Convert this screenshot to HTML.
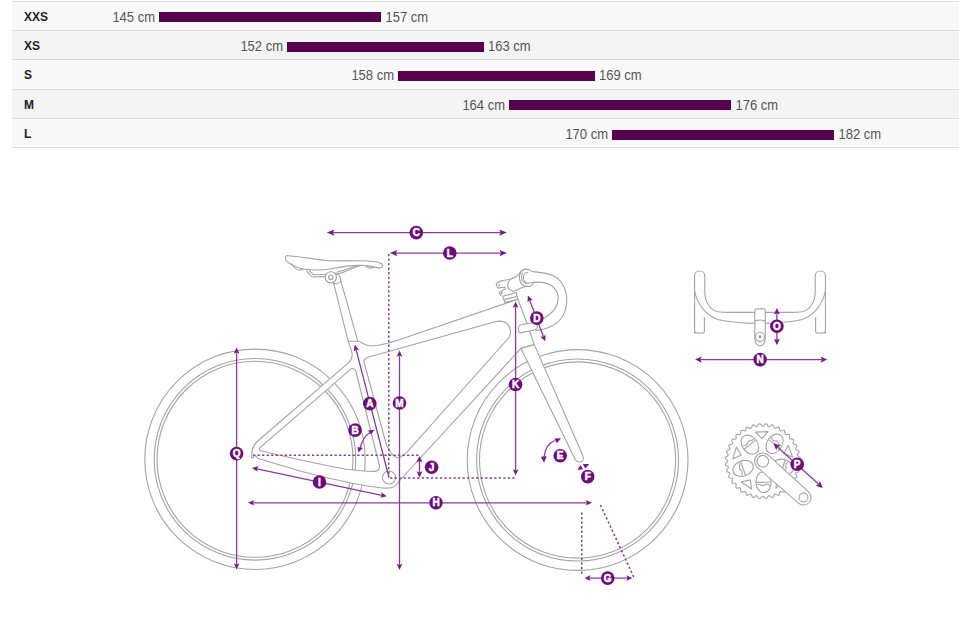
<!DOCTYPE html>
<html><head><meta charset="utf-8">
<style>
html,body{margin:0;padding:0;background:#fff;width:959px;height:618px;overflow:hidden;}
svg{position:absolute;left:0;top:0;}
text{font-family:"Liberation Sans",sans-serif;}
</style></head><body>
<svg width="959" height="618" viewBox="0 0 959 618">
<!-- size table -->
<g>
<rect x="12" y="1" width="947" height="29" fill="#f9f9f9"/>
<rect x="12" y="30" width="947" height="29" fill="#f4f4f4"/>
<rect x="12" y="59" width="947" height="30" fill="#f9f9f9"/>
<rect x="12" y="89" width="947" height="29" fill="#f4f4f4"/>
<rect x="12" y="118" width="947" height="29" fill="#f9f9f9"/>
<g fill="#dddddd">
<rect x="12" y="1" width="947" height="1"/>
<rect x="12" y="30" width="947" height="1"/>
<rect x="12" y="59" width="947" height="1"/>
<rect x="12" y="89" width="947" height="1"/>
<rect x="12" y="118" width="947" height="1"/>
<rect x="12" y="147" width="947" height="1"/>
</g>
<g fill="#222" font-weight="bold" font-size="12">
<text x="24" y="21">XXS</text>
<text x="24" y="50">XS</text>
<text x="24" y="79">S</text>
<text x="24" y="108.5">M</text>
<text x="24" y="137.5">L</text>
</g>
<g fill="#58004e">
<rect x="159" y="12" width="222" height="10"/>
<rect x="287" y="42" width="197" height="10"/>
<rect x="398" y="71" width="197" height="10"/>
<rect x="509" y="100" width="222" height="10"/>
<rect x="612" y="130" width="222" height="10"/>
</g>
<g fill="#555" font-size="13">
<text transform="translate(155,21.9) scale(1,1.07)" text-anchor="end">145 cm</text>
<text transform="translate(385.5,21.9) scale(1,1.07)">157 cm</text>
<text transform="translate(283,50.9) scale(1,1.07)" text-anchor="end">152 cm</text>
<text transform="translate(488,50.9) scale(1,1.07)">163 cm</text>
<text transform="translate(394,79.8) scale(1,1.07)" text-anchor="end">158 cm</text>
<text transform="translate(599,79.8) scale(1,1.07)">169 cm</text>
<text transform="translate(505,109.9) scale(1,1.07)" text-anchor="end">164 cm</text>
<text transform="translate(735.5,109.9) scale(1,1.07)">176 cm</text>
<text transform="translate(608,139) scale(1,1.07)" text-anchor="end">170 cm</text>
<text transform="translate(838.5,139) scale(1,1.07)">182 cm</text>
</g>
</g>

<!-- BIKE -->
<g id="bike" fill="none" stroke="#a4a4a4" stroke-width="1.1" stroke-linejoin="round" stroke-linecap="round">
<!-- wheels -->
<circle cx="255" cy="459.3" r="110.2"/>
<circle cx="255" cy="459.3" r="100.8"/>
<circle cx="255" cy="459.3" r="98"/>
<circle cx="577.6" cy="460" r="110.4"/>
<circle cx="577.6" cy="460" r="101"/>
<circle cx="577.6" cy="460" r="98.1"/>
<!--EXTRAS-->
<path d="M694.6,333 L694.6,276 C694.6,273 697,271 699.8,271 C702.5,271 704.8,273 704.8,276 L704.8,292 C704.8,302 710,310 718,311.8 C722,312.4 726,312.4 730,312.4 L754.7,312.4"/>
<path d="M694.6,291 C697,303 705,315 718,319.5 C728,322 740,323 754.7,323.4"/>
<path d="M704.4,317.5 L704.4,331.5 C704.4,333 703.5,333 702,333 L697,333 C695.5,333 694.6,332.5 694.6,331"/>
<path d="M825.4,333 L825.4,276 C825.4,273 823,271 820.2,271 C817.5,271 815.2,273 815.2,276 L815.2,292 C815.2,302 810,310 802,311.8 C798,312.4 794,312.4 790,312.4 L765.3,312.4"/>
<path d="M825.4,291 C823,303 815,315 802,319.5 C792,322 780,323 765.3,323.4"/>
<path d="M815.6,317.5 L815.6,331.5 C815.6,333 816.5,333 818,333 L823,333 C824.5,333 825.4,332.5 825.4,331"/>
<path d="M754.8,311 C754.8,309 756,308.6 758,308.9 C759.3,309.1 760.7,309.1 762,308.9 C764,308.6 765.3,309 765.3,311 L765.3,339 C765.3,343 762.5,345.8 760,345.8 C757.5,345.8 754.8,343 754.8,339 Z"/>
<path d="M754.8,322 C755,320.5 757,320 760,320 C763,320 765,320.5 765.3,322"/>
<circle cx="760" cy="336.8" r="4.6"/>
<circle cx="760" cy="336.8" r="1" fill="#9a9a9a"/>
<path d="M797.80,461.20 L797.90,461.58 L798.17,461.97 L798.58,462.37 L799.07,462.78 L799.54,463.21 L799.94,463.63 L800.19,464.06 L800.26,464.48 L800.12,464.88 L799.80,465.25 L799.33,465.60 L798.79,465.94 L798.24,466.26 L797.77,466.58 L797.43,466.92 L797.27,467.28 L797.30,467.67 L797.50,468.10 L797.84,468.57 L798.24,469.06 L798.64,469.56 L798.95,470.05 L799.13,470.51 L799.12,470.93 L798.92,471.30 L798.53,471.62 L798.01,471.88 L797.42,472.12 L796.83,472.34 L796.30,472.57 L795.91,472.84 L795.69,473.17 L795.65,473.56 L795.78,474.02 L796.02,474.54 L796.34,475.09 L796.64,475.65 L796.87,476.19 L796.96,476.68 L796.88,477.09 L796.61,477.42 L796.18,477.66 L795.62,477.83 L795.00,477.96 L794.37,478.08 L793.82,478.22 L793.39,478.42 L793.11,478.70 L793.00,479.08 L793.05,479.55 L793.20,480.11 L793.42,480.70 L793.62,481.31 L793.75,481.88 L793.75,482.37 L793.60,482.77 L793.28,483.04 L792.82,483.21 L792.24,483.28 L791.60,483.30 L790.96,483.30 L790.39,483.35 L789.93,483.47 L789.61,483.70 L789.44,484.05 L789.40,484.53 L789.46,485.10 L789.56,485.72 L789.66,486.35 L789.69,486.94 L789.60,487.43 L789.39,487.79 L789.03,488.00 L788.54,488.09 L787.95,488.06 L787.32,487.96 L786.70,487.86 L786.13,487.80 L785.65,487.84 L785.30,488.01 L785.07,488.33 L784.95,488.79 L784.90,489.36 L784.90,490.00 L784.88,490.64 L784.81,491.22 L784.64,491.68 L784.37,492.00 L783.97,492.15 L783.48,492.15 L782.91,492.02 L782.30,491.82 L781.71,491.60 L781.15,491.45 L780.68,491.40 L780.30,491.51 L780.02,491.79 L779.82,492.22 L779.68,492.77 L779.56,493.40 L779.43,494.02 L779.26,494.58 L779.02,495.01 L778.69,495.28 L778.28,495.36 L777.79,495.27 L777.25,495.04 L776.69,494.74 L776.14,494.42 L775.62,494.18 L775.16,494.05 L774.77,494.09 L774.44,494.31 L774.17,494.70 L773.94,495.23 L773.72,495.82 L773.48,496.41 L773.22,496.93 L772.90,497.32 L772.53,497.52 L772.11,497.53 L771.65,497.35 L771.16,497.04 L770.66,496.64 L770.17,496.24 L769.70,495.90 L769.27,495.70 L768.88,495.67 L768.52,495.83 L768.18,496.17 L767.86,496.64 L767.54,497.19 L767.20,497.73 L766.85,498.20 L766.48,498.52 L766.08,498.66 L765.66,498.59 L765.23,498.34 L764.81,497.94 L764.38,497.47 L763.97,496.98 L763.57,496.57 L763.18,496.30 L762.80,496.20 L762.42,496.30 L762.03,496.57 L761.63,496.98 L761.22,497.47 L760.79,497.94 L760.37,498.34 L759.94,498.59 L759.52,498.66 L759.12,498.52 L758.75,498.20 L758.40,497.73 L758.06,497.19 L757.74,496.64 L757.42,496.17 L757.08,495.83 L756.72,495.67 L756.33,495.70 L755.90,495.90 L755.43,496.24 L754.94,496.64 L754.44,497.04 L753.95,497.35 L753.49,497.53 L753.07,497.52 L752.70,497.32 L752.38,496.93 L752.12,496.41 L751.88,495.82 L751.66,495.23 L751.43,494.70 L751.16,494.31 L750.83,494.09 L750.44,494.05 L749.98,494.18 L749.46,494.42 L748.91,494.74 L748.35,495.04 L747.81,495.27 L747.32,495.36 L746.91,495.28 L746.58,495.01 L746.34,494.58 L746.17,494.02 L746.04,493.40 L745.92,492.77 L745.78,492.22 L745.58,491.79 L745.30,491.51 L744.92,491.40 L744.45,491.45 L743.89,491.60 L743.30,491.82 L742.69,492.02 L742.12,492.15 L741.63,492.15 L741.23,492.00 L740.96,491.68 L740.79,491.22 L740.72,490.64 L740.70,490.00 L740.70,489.36 L740.65,488.79 L740.53,488.33 L740.30,488.01 L739.95,487.84 L739.47,487.80 L738.90,487.86 L738.28,487.96 L737.65,488.06 L737.06,488.09 L736.57,488.00 L736.21,487.79 L736.00,487.43 L735.91,486.94 L735.94,486.35 L736.04,485.72 L736.14,485.10 L736.20,484.53 L736.16,484.05 L735.99,483.70 L735.67,483.47 L735.21,483.35 L734.64,483.30 L734.00,483.30 L733.36,483.28 L732.78,483.21 L732.32,483.04 L732.00,482.77 L731.85,482.37 L731.85,481.88 L731.98,481.31 L732.18,480.70 L732.40,480.11 L732.55,479.55 L732.60,479.08 L732.49,478.70 L732.21,478.42 L731.78,478.22 L731.23,478.08 L730.60,477.96 L729.98,477.83 L729.42,477.66 L728.99,477.42 L728.72,477.09 L728.64,476.68 L728.73,476.19 L728.96,475.65 L729.26,475.09 L729.58,474.54 L729.82,474.02 L729.95,473.56 L729.91,473.17 L729.69,472.84 L729.30,472.57 L728.77,472.34 L728.18,472.12 L727.59,471.88 L727.07,471.62 L726.68,471.30 L726.48,470.93 L726.47,470.51 L726.65,470.05 L726.96,469.56 L727.36,469.06 L727.76,468.57 L728.10,468.10 L728.30,467.67 L728.33,467.28 L728.17,466.92 L727.83,466.58 L727.36,466.26 L726.81,465.94 L726.27,465.60 L725.80,465.25 L725.48,464.88 L725.34,464.48 L725.41,464.06 L725.66,463.63 L726.06,463.21 L726.53,462.78 L727.02,462.37 L727.43,461.97 L727.70,461.58 L727.80,461.20 L727.70,460.82 L727.43,460.43 L727.02,460.03 L726.53,459.62 L726.06,459.19 L725.66,458.77 L725.41,458.34 L725.34,457.92 L725.48,457.52 L725.80,457.15 L726.27,456.80 L726.81,456.46 L727.36,456.14 L727.83,455.82 L728.17,455.48 L728.33,455.12 L728.30,454.73 L728.10,454.30 L727.76,453.83 L727.36,453.34 L726.96,452.84 L726.65,452.35 L726.47,451.89 L726.48,451.47 L726.68,451.10 L727.07,450.78 L727.59,450.52 L728.18,450.28 L728.77,450.06 L729.30,449.83 L729.69,449.56 L729.91,449.23 L729.95,448.84 L729.82,448.38 L729.58,447.86 L729.26,447.31 L728.96,446.75 L728.73,446.21 L728.64,445.72 L728.72,445.31 L728.99,444.98 L729.42,444.74 L729.98,444.57 L730.60,444.44 L731.23,444.32 L731.78,444.18 L732.21,443.98 L732.49,443.70 L732.60,443.32 L732.55,442.85 L732.40,442.29 L732.18,441.70 L731.98,441.09 L731.85,440.52 L731.85,440.03 L732.00,439.63 L732.32,439.36 L732.78,439.19 L733.36,439.12 L734.00,439.10 L734.64,439.10 L735.21,439.05 L735.67,438.93 L735.99,438.70 L736.16,438.35 L736.20,437.87 L736.14,437.30 L736.04,436.68 L735.94,436.05 L735.91,435.46 L736.00,434.97 L736.21,434.61 L736.57,434.40 L737.06,434.31 L737.65,434.34 L738.28,434.44 L738.90,434.54 L739.47,434.60 L739.95,434.56 L740.30,434.39 L740.53,434.07 L740.65,433.61 L740.70,433.04 L740.70,432.40 L740.72,431.76 L740.79,431.18 L740.96,430.72 L741.23,430.40 L741.63,430.25 L742.12,430.25 L742.69,430.38 L743.30,430.58 L743.89,430.80 L744.45,430.95 L744.92,431.00 L745.30,430.89 L745.58,430.61 L745.78,430.18 L745.92,429.63 L746.04,429.00 L746.17,428.38 L746.34,427.82 L746.58,427.39 L746.91,427.12 L747.32,427.04 L747.81,427.13 L748.35,427.36 L748.91,427.66 L749.46,427.98 L749.98,428.22 L750.44,428.35 L750.83,428.31 L751.16,428.09 L751.43,427.70 L751.66,427.17 L751.88,426.58 L752.12,425.99 L752.38,425.47 L752.70,425.08 L753.07,424.88 L753.49,424.87 L753.95,425.05 L754.44,425.36 L754.94,425.76 L755.43,426.16 L755.90,426.50 L756.33,426.70 L756.72,426.73 L757.08,426.57 L757.42,426.23 L757.74,425.76 L758.06,425.21 L758.40,424.67 L758.75,424.20 L759.12,423.88 L759.52,423.74 L759.94,423.81 L760.37,424.06 L760.79,424.46 L761.22,424.93 L761.63,425.42 L762.03,425.83 L762.42,426.10 L762.80,426.20 L763.18,426.10 L763.57,425.83 L763.97,425.42 L764.38,424.93 L764.81,424.46 L765.23,424.06 L765.66,423.81 L766.08,423.74 L766.48,423.88 L766.85,424.20 L767.20,424.67 L767.54,425.21 L767.86,425.76 L768.18,426.23 L768.52,426.57 L768.88,426.73 L769.27,426.70 L769.70,426.50 L770.17,426.16 L770.66,425.76 L771.16,425.36 L771.65,425.05 L772.11,424.87 L772.53,424.88 L772.90,425.08 L773.22,425.47 L773.48,425.99 L773.72,426.58 L773.94,427.17 L774.17,427.70 L774.44,428.09 L774.77,428.31 L775.16,428.35 L775.62,428.22 L776.14,427.98 L776.69,427.66 L777.25,427.36 L777.79,427.13 L778.28,427.04 L778.69,427.12 L779.02,427.39 L779.26,427.82 L779.43,428.38 L779.56,429.00 L779.68,429.63 L779.82,430.18 L780.02,430.61 L780.30,430.89 L780.68,431.00 L781.15,430.95 L781.71,430.80 L782.30,430.58 L782.91,430.38 L783.48,430.25 L783.97,430.25 L784.37,430.40 L784.64,430.72 L784.81,431.18 L784.88,431.76 L784.90,432.40 L784.90,433.04 L784.95,433.61 L785.07,434.07 L785.30,434.39 L785.65,434.56 L786.13,434.60 L786.70,434.54 L787.32,434.44 L787.95,434.34 L788.54,434.31 L789.03,434.40 L789.39,434.61 L789.60,434.97 L789.69,435.46 L789.66,436.05 L789.56,436.68 L789.46,437.30 L789.40,437.87 L789.44,438.35 L789.61,438.70 L789.93,438.93 L790.39,439.05 L790.96,439.10 L791.60,439.10 L792.24,439.12 L792.82,439.19 L793.28,439.36 L793.60,439.63 L793.75,440.03 L793.75,440.52 L793.62,441.09 L793.42,441.70 L793.20,442.29 L793.05,442.85 L793.00,443.32 L793.11,443.70 L793.39,443.98 L793.82,444.18 L794.37,444.32 L795.00,444.44 L795.62,444.57 L796.18,444.74 L796.61,444.98 L796.88,445.31 L796.96,445.72 L796.87,446.21 L796.64,446.75 L796.34,447.31 L796.02,447.86 L795.78,448.38 L795.65,448.84 L795.69,449.23 L795.91,449.56 L796.30,449.83 L796.83,450.06 L797.42,450.28 L798.01,450.52 L798.53,450.78 L798.92,451.10 L799.12,451.47 L799.13,451.89 L798.95,452.35 L798.64,452.84 L798.24,453.34 L797.84,453.83 L797.50,454.30 L797.30,454.73 L797.27,455.12 L797.43,455.48 L797.77,455.82 L798.24,456.14 L798.79,456.46 L799.33,456.80 L799.80,457.15 L800.12,457.52 L800.26,457.92 L800.19,458.34 L799.94,458.77 L799.54,459.19 L799.07,459.62 L798.58,460.03 L798.17,460.43 L797.90,460.82 L797.80,461.20 Z"/>
<ellipse cx="749.87" cy="444.65" rx="10.5" ry="7.6" transform="rotate(-128 749.87 444.65)"/>
<path d="M743.11,445.75 L745.43,445.46 L747.00,444.23 L747.84,442.05 L749.42,440.82 L751.73,440.53 L753.31,439.30"/>
<path d="M744.36,448.96 L755.39,440.34"/>
<ellipse cx="774.54" cy="443.79" rx="10.5" ry="7.6" transform="rotate(-56 774.54 443.79)"/>
<path d="M771.41,437.70 L772.40,439.81 L774.06,440.93 L776.39,441.05 L778.05,442.17 L779.03,444.29 L780.69,445.40"/>
<path d="M768.74,439.88 L780.35,447.70"/>
<ellipse cx="782.99" cy="466.99" rx="10.5" ry="7.6" transform="rotate(16 782.99 466.99)"/>
<path d="M787.81,462.13 L786.11,463.72 L785.56,465.64 L786.16,467.90 L785.61,469.82 L783.90,471.41 L783.35,473.33"/>
<path d="M784.92,460.26 L781.06,473.72"/>
<ellipse cx="763.53" cy="482.19" rx="10.5" ry="7.6" transform="rotate(88 763.53 482.19)"/>
<path d="M769.64,485.28 L767.60,484.15 L765.60,484.22 L763.65,485.49 L761.65,485.55 L759.61,484.43 L757.61,484.50"/>
<path d="M770.53,481.94 L756.54,482.43"/>
<ellipse cx="743.07" cy="468.38" rx="10.5" ry="7.6" transform="rotate(160 743.07 468.38)"/>
<path d="M742.02,475.15 L742.46,472.86 L741.78,470.98 L739.97,469.51 L739.28,467.63 L739.73,465.34 L739.04,463.46"/>
<path d="M745.46,474.96 L740.67,461.80"/>
<path d="M755.54,432.09 L768.01,431.66 L762.01,438.71 Z"/>
<path d="M788.24,445.30 L792.51,457.02 L783.94,453.50 Z"/>
<path d="M785.78,480.48 L775.95,488.16 L776.65,478.93 Z"/>
<path d="M751.56,489.02 L741.22,482.04 L750.22,479.85 Z"/>
<path d="M732.87,459.11 L736.31,447.12 L741.17,455.00 Z"/>
<path d="M757.34,467.32 L798.44,503.17 A7.6,7.6 0 0 0 808.56,491.83 L768.26,455.08 A8.2,8.2 0 0 0 757.34,467.32 Z" fill="#fff"/>
<circle cx="762.8" cy="461.2" r="5.8"/>
<circle cx="803.5" cy="497.5" r="4.4"/>
<!--/EXTRAS-->
<!--FRAME-->
<!-- saddle -->
<path d="M286.9,255.5 C300,256.5 312,259 326,260.5 C342,261.5 356,260.2 372,261.2 C379,262 383,263.5 382.6,266 C382.3,268 380,268.2 377.5,267.6 C372,266.3 368,265.6 362,265.4 C352,265.2 342,266.5 332,268.8 C322,270.5 312,270.3 303,269 C295,267 289,263.5 286.2,260.8 C284.8,259 285.2,256 286.9,255.5 Z"/>
<path d="M291.5,263.8 C293.5,267 295.5,269.6 298.5,270 C300.5,270.2 302,269.8 303,269.2"/>
<path d="M306.5,270.8 L312,277 L325.5,276.6"/>
<path d="M336.5,274.5 C344,272 352,268.5 360.5,265.6"/>
<path d="M309,270.2 L313.5,274.8 L325,274.5"/>
<path d="M337,272.2 C345,270 351,267.5 358,265.5"/>
<path d="M366.5,266.2 C368,268.5 371.5,268.8 373.5,267"/>
<circle cx="330.8" cy="277.3" r="5.6"/>
<circle cx="330.8" cy="277.3" r="2.3"/>
<!-- seatpost -->
<path d="M333.7,283.4 L348.2,341.3"/>
<path d="M333.7,283.4 C337,283.8 340,282.5 340.8,280.6 C340.6,277.5 338.5,274.2 335.2,273"/>
<path d="M340.8,280.6 L357.8,341.2"/>
<!-- frame body (filled, evenodd) -->
<path fill="#fff" fill-rule="evenodd" d="M348.2,341.3 L357.8,341.2 C362.5,342 364,345.5 371,346 C380,345.8 390,342.8 400,339.5 L517.8,299.2 L527,323.2 L530.2,333 L534.3,344.6 L521,348.4 L399.7,480.5 C397.5,484.5 394,487.8 389,488 C386,488.2 383,488.2 380,487.8 C365,485.8 340,481 312.6,474.2 C295,469.8 275,463.5 257.5,458.3 L256.5,456.2 L254.3,455.8 L253.5,457.8 L251.5,457.6 L252.2,451 C252.4,447.5 254.3,444.5 257.8,441 L349,362.3 C351.2,360.5 352,358.5 352.2,355 C352.3,352 350.5,348 348.2,341.3 Z
M352,368.2 L259.7,447.8 C258.8,449.3 259.5,450.5 261.5,451 C285,456.5 320,464.5 345,469 C360,471 370,471.5 375,471.4 C378,471.3 379.6,469.5 379.5,466 L355.8,371 C355.2,369.5 354,368.5 352,368.2 Z
M371.6,356.2 L495,321.8 C502,320 507,322 509.5,327 C511,331 510.8,334.5 509,337.5 L407.2,451.8 C403,456 401,457.7 398,457.7 C395,457.7 393,456 391,452.5 C389.2,449.5 387.5,448 386.6,445.5 L364,362 C363.3,358.5 366.5,357.3 371.6,356.2 Z"/>
<path d="M516,292.5 L517.8,299.2"/>
<!-- BB -->
<circle cx="389" cy="477.5" r="6.5"/>
<!-- fork (filled) -->
<path fill="#fff" d="M521,348.4 L534.3,344.6 L583,456 C584.3,459.3 582.5,462 579.5,462 C576.8,462 575.2,460.2 574.3,457.6 Z"/>
<!-- spacers -->
<path d="M502.7,296.3 L516,292.7 M503.9,299.6 L516.8,296.5 M504.7,302.4 L518,299.2 M502.7,296.3 L504.7,302.4"/>
<!-- stem -->
<path d="M524.5,269.2 C522.5,269.8 521.5,271 520.4,272.2 C518.5,274.5 517.5,275.8 516.3,276.5 C514,277.8 512,278.7 510.5,279.2 L501.7,280.9 C499,281.5 497.5,282.3 497.1,283.2 C496.2,284.2 496.2,285.2 496.5,285.6 C497,287 497.5,287.9 498.2,287.9 L504.7,287.3 C505.5,287.6 505.6,288.6 505.2,289.1 L500,292 C499.2,292.5 499.1,293.2 499.4,293.7 L501.2,295.5"/>
<path d="M510.5,279.2 C508.5,281 507.6,283.5 507.6,286.1 C507.8,288 508.8,289 509.9,289.6 C511,290.5 512.3,291 513.4,291.4 C517,290 520,288.5 523.3,287.3 C525,286.6 526.5,286.2 528,286.1"/>
<path d="M524.5,269.2 C520,271 519,276 519.5,278.6 C520,282 521.5,284.5 523.3,285.6 C525.5,286.6 528,286.6 530.3,286.1 C532,285.5 533,284 533.8,282.6"/>
<path d="M524.5,269.2 C527.5,268.8 530.5,270 532.6,271.6"/>
<path d="M528,272.2 C525,272.5 523.3,275 523.3,277.4 C523.3,280.5 525.5,283.2 528,283.2 C530,283.2 531.5,282.8 533.4,282.4"/>
<path d="M522.1,273.3 C521.5,276 521.7,280 522.7,281.5 C523.8,283 525.5,283.6 527.4,283.8"/>
<circle cx="499.1" cy="285.3" r="0.5"/>
<circle cx="501.7" cy="293.1" r="0.5"/>
<!-- drop bar side -->
<path d="M532.6,271.6 C538,272.2 546,272.5 553,275.5 C562,280 567.5,290 566.7,302 C566,315 559,323.5 548,327.8 C543,329.5 538.5,330.3 536,330.6"/>
<path d="M533.4,282.4 C540,281.6 547,282.5 552,286 C557.5,290 559.5,297 557.5,303 C555.5,309 551,314 545,317.5 C541,319.8 537.5,321.3 534,322.3"/>
<path fill="#fff" d="M520.5,325 L531.9,322.8 C535,322.2 537,323.5 537.3,326 C537.5,328.3 536.5,329.5 534,330 L520.5,332.9 C517.8,333.3 517.6,325.6 520.5,325 Z"/>
</g>

<!-- DIMENSIONS -->
<g id="dims" stroke="#8a3b9c" stroke-width="1.3" fill="none">
<path d="M332.88,232.60 L500.72,232.60"/>
<path d="M326.80,232.60 L334.40,229.50 L332.88,232.60 L334.40,235.70 Z" fill="#751a88" stroke="none"/>
<path d="M506.80,232.60 L499.20,235.70 L500.72,232.60 L499.20,229.50 Z" fill="#751a88" stroke="none"/>
<path d="M395.82,253.10 L500.98,253.10"/>
<path d="M389.90,253.10 L397.30,250.00 L395.82,253.10 L397.30,256.20 Z" fill="#751a88" stroke="none"/>
<path d="M506.90,253.10 L499.50,256.20 L500.98,253.10 L499.50,250.00 Z" fill="#751a88" stroke="none"/>
<path d="M388.8,254 L388.8,477" stroke="#8a3c9a" stroke-dasharray="2.3 2.23" stroke-width="1.5"/>
<path d="M529.65,300.14 L543.45,336.66"/>
<path d="M527.90,295.50 L532.71,300.31 L529.65,300.14 L527.47,302.29 Z" fill="#751a88" stroke="none"/>
<path d="M545.20,341.30 L540.39,336.49 L543.45,336.66 L545.63,334.51 Z" fill="#751a88" stroke="none"/>
<path d="M515.60,306.46 L515.60,470.54"/>
<path d="M515.60,301.50 L518.40,307.70 L515.60,306.46 L512.80,307.70 Z" fill="#751a88" stroke="none"/>
<path d="M515.60,475.50 L512.80,469.30 L515.60,470.54 L518.40,469.30 Z" fill="#751a88" stroke="none"/>
<path d="M390,478 L515,478" stroke="#8a3c9a" stroke-dasharray="2.3 2.23" stroke-width="1.5"/>
<path d="M399.50,355.46 L399.50,565.04"/>
<path d="M399.50,350.50 L402.30,356.70 L399.50,355.46 L396.70,356.70 Z" fill="#751a88" stroke="none"/>
<path d="M399.50,570.00 L396.70,563.80 L399.50,565.04 L402.30,563.80 Z" fill="#751a88" stroke="none"/>
<path d="M356.04,349.40 L389.00,477.50"/>
<path d="M354.80,344.60 L359.06,349.91 L356.04,349.40 L353.63,351.30 Z" fill="#751a88" stroke="none"/>
<path d="M236.60,352.46 L236.60,564.54"/>
<path d="M236.60,347.50 L239.40,353.70 L236.60,352.46 L233.80,353.70 Z" fill="#751a88" stroke="none"/>
<path d="M236.60,569.50 L233.80,563.30 L236.60,564.54 L239.40,563.30 Z" fill="#751a88" stroke="none"/>
<path d="M256.85,468.83 L381.95,495.27"/>
<path d="M252.00,467.80 L258.65,466.34 L256.85,468.83 L257.49,471.82 Z" fill="#751a88" stroke="none"/>
<path d="M386.80,496.30 L380.15,497.76 L381.95,495.27 L381.31,492.28 Z" fill="#751a88" stroke="none"/>
<path d="M252.96,502.80 L587.04,502.80"/>
<path d="M248.00,502.80 L254.20,500.00 L252.96,502.80 L254.20,505.60 Z" fill="#751a88" stroke="none"/>
<path d="M592.00,502.80 L585.80,505.60 L587.04,502.80 L585.80,500.00 Z" fill="#751a88" stroke="none"/>
<path d="M419.50,460.96 L419.50,472.54"/>
<path d="M419.50,456.00 L422.50,462.20 L419.50,460.96 L416.50,462.20 Z" fill="#751a88" stroke="none"/>
<path d="M419.50,477.50 L416.50,471.30 L419.50,472.54 L422.50,471.30 Z" fill="#751a88" stroke="none"/>
<path d="M253,455.2 L420.5,455.2" stroke="#8a3c9a" stroke-dasharray="2.3 2.23" stroke-width="1.5"/>
<path d="M370,432.5 C366,435 362,440 360.3,448"/>
<path d="M368,430.6 L374.6,429.8 L371,434.6 Z" fill="#751a88" stroke="none"/>
<path d="M357.5,447 L362.9,448 L358.3,452.6 Z" fill="#751a88" stroke="none"/>
<path d="M554.5,440.5 C549,443 545,449 544,457"/>
<path d="M554.3,438.6 L561,438.3 L556.8,443.2 Z" fill="#751a88" stroke="none"/>
<path d="M540.8,456.8 L546.6,456.2 L544.1,462.8 Z" fill="#751a88" stroke="none"/>
<path d="M577.2,469.8 L580.6,465.2 L583.2,469.4 Z" fill="#751a88" stroke="none"/>
<path d="M582.8,464 L589.2,464 L585.3,468.8 Z" fill="#751a88" stroke="none"/>
<path d="M581.75,512.5 L581.75,575" stroke="#8a3c9a" stroke-dasharray="2.3 2.23" stroke-width="1.5"/>
<path d="M600.5,505 L633.75,577" stroke="#8a3c9a" stroke-dasharray="2.3 2.23" stroke-width="1.5"/>
<path d="M589.30,578.10 L627.50,578.10"/>
<path d="M584.50,578.10 L590.50,575.30 L589.30,578.10 L590.50,580.90 Z" fill="#751a88" stroke="none"/>
<path d="M632.30,578.10 L626.30,580.90 L627.50,578.10 L626.30,575.30 Z" fill="#751a88" stroke="none"/>
<path d="M776.90,313.28 L776.90,340.02"/>
<path d="M776.90,308.00 L779.90,314.60 L776.90,313.28 L773.90,314.60 Z" fill="#751a88" stroke="none"/>
<path d="M776.90,345.30 L773.90,338.70 L776.90,340.02 L779.90,338.70 Z" fill="#751a88" stroke="none"/>
<path d="M700.38,359.60 L821.92,359.60"/>
<path d="M695.10,359.60 L701.70,356.40 L700.38,359.60 L701.70,362.80 Z" fill="#751a88" stroke="none"/>
<path d="M827.20,359.60 L820.60,362.80 L821.92,359.60 L820.60,356.40 Z" fill="#751a88" stroke="none"/>
<path d="M777.34,446.94 L818.76,484.26"/>
<path d="M773.30,443.30 L780.43,445.55 L777.34,446.94 L776.28,450.15 Z" fill="#751a88" stroke="none"/>
<path d="M822.80,487.90 L815.67,485.65 L818.76,484.26 L819.82,481.05 Z" fill="#751a88" stroke="none"/>
</g>
<g id="labels">
<circle cx="416.3" cy="232.6" r="6.8" fill="#6b0d7a"/><text x="416.3" y="236.15" text-anchor="middle" font-size="10" font-weight="bold" fill="#fff" stroke="#fff" stroke-width="0.5">C</text>
<circle cx="449.8" cy="253" r="6.8" fill="#6b0d7a"/><text x="449.8" y="256.55" text-anchor="middle" font-size="10" font-weight="bold" fill="#fff" stroke="#fff" stroke-width="0.5">L</text>
<circle cx="536.8" cy="318.1" r="6.8" fill="#6b0d7a"/><text x="536.8" y="321.65" text-anchor="middle" font-size="10" font-weight="bold" fill="#fff" stroke="#fff" stroke-width="0.5">D</text>
<circle cx="515.6" cy="384.5" r="6.8" fill="#6b0d7a"/><text x="515.6" y="388.05" text-anchor="middle" font-size="10" font-weight="bold" fill="#fff" stroke="#fff" stroke-width="0.5">K</text>
<circle cx="399.5" cy="403" r="6.8" fill="#6b0d7a"/><text x="399.5" y="406.55" text-anchor="middle" font-size="10" font-weight="bold" fill="#fff" stroke="#fff" stroke-width="0.5">M</text>
<circle cx="369.8" cy="403.6" r="6.8" fill="#6b0d7a"/><text x="369.8" y="407.15" text-anchor="middle" font-size="10" font-weight="bold" fill="#fff" stroke="#fff" stroke-width="0.5">A</text>
<circle cx="236.6" cy="453.6" r="6.8" fill="#6b0d7a"/><text x="236.6" y="457.15" text-anchor="middle" font-size="10" font-weight="bold" fill="#fff" stroke="#fff" stroke-width="0.5">Q</text>
<circle cx="319.5" cy="482" r="6.8" fill="#6b0d7a"/><text x="319.5" y="485.55" text-anchor="middle" font-size="10" font-weight="bold" fill="#fff" stroke="#fff" stroke-width="0.5">I</text>
<circle cx="436" cy="502.8" r="6.8" fill="#6b0d7a"/><text x="436" y="506.35" text-anchor="middle" font-size="10" font-weight="bold" fill="#fff" stroke="#fff" stroke-width="0.5">H</text>
<circle cx="431.6" cy="467.2" r="6.8" fill="#6b0d7a"/><text x="431.6" y="470.75" text-anchor="middle" font-size="10" font-weight="bold" fill="#fff" stroke="#fff" stroke-width="0.5">J</text>
<circle cx="355.1" cy="430.1" r="6.8" fill="#6b0d7a"/><text x="355.1" y="433.65" text-anchor="middle" font-size="10" font-weight="bold" fill="#fff" stroke="#fff" stroke-width="0.5">B</text>
<circle cx="560.2" cy="455.8" r="6.8" fill="#6b0d7a"/><text x="560.2" y="459.35" text-anchor="middle" font-size="10" font-weight="bold" fill="#fff" stroke="#fff" stroke-width="0.5">E</text>
<circle cx="587.7" cy="476.6" r="6.8" fill="#6b0d7a"/><text x="587.7" y="480.15" text-anchor="middle" font-size="10" font-weight="bold" fill="#fff" stroke="#fff" stroke-width="0.5">F</text>
<circle cx="607.7" cy="578.1" r="6.8" fill="#6b0d7a"/><text x="607.7" y="581.65" text-anchor="middle" font-size="10" font-weight="bold" fill="#fff" stroke="#fff" stroke-width="0.5">G</text>
<circle cx="776.9" cy="326.3" r="6.8" fill="#6b0d7a"/><text x="776.9" y="329.85" text-anchor="middle" font-size="10" font-weight="bold" fill="#fff" stroke="#fff" stroke-width="0.5">O</text>
<circle cx="760.1" cy="359.6" r="6.8" fill="#6b0d7a"/><text x="760.1" y="363.15" text-anchor="middle" font-size="10" font-weight="bold" fill="#fff" stroke="#fff" stroke-width="0.5">N</text>
<circle cx="797.2" cy="464.2" r="6.8" fill="#6b0d7a"/><text x="797.2" y="467.75" text-anchor="middle" font-size="10" font-weight="bold" fill="#fff" stroke="#fff" stroke-width="0.5">P</text>
</g>
</svg>
</body></html>
